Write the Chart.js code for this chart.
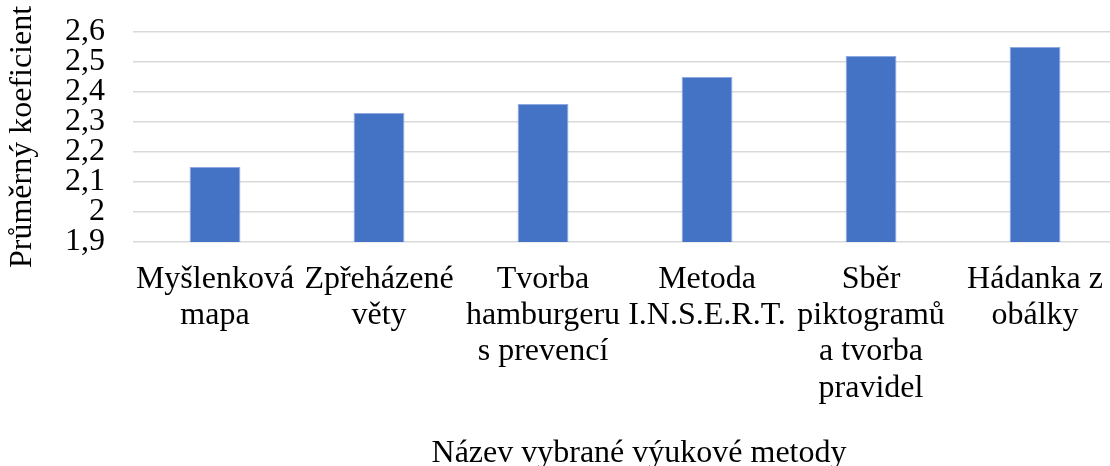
<!DOCTYPE html>
<html>
<head>
<meta charset="utf-8">
<script src="https://cdn.jsdelivr.net/npm/chart.js@4.4.1/dist/chart.umd.min.js"></script>
<style>
html, body { margin: 0; padding: 0; overflow: hidden; background: #ffffff; }
#wrap { width: 1122px; height: 466px; }
</style>
</head>
<body>
<div id="wrap"><canvas id="c" width="1122" height="466"></canvas></div>
<script>
const categories = [
  ['Myšlenková', 'mapa'],
  ['Zpřeházené', 'věty'],
  ['Tvorba', 'hamburgeru', 's prevencí'],
  ['Metoda', 'I.N.S.E.R.T.'],
  ['Sběr', 'piktogramů', 'a tvorba', 'pravidel'],
  ['Hádanka z', 'obálky']
];
const values = [2.15, 2.33, 2.36, 2.45, 2.52, 2.55];
const yTickLabels = ['1,9', '2', '2,1', '2,2', '2,3', '2,4', '2,5', '2,6'];
const yTitle = 'Průměrný koeficient';
const xTitle = 'Název vybrané výukové metody';

const FONT = "'Liberation Serif', 'Times New Roman', serif";

// Draws the x-axis title below the category labels, centred slightly right of the plot centre
const xTitlePlugin = {
  id: 'xTitle',
  afterDraw(chart) {
    const s = chart.scales.x;
    const ctx = chart.ctx;
    ctx.save();
    ctx.font = "32px " + FONT;
    ctx.fillStyle = '#000';
    ctx.textAlign = 'center';
    ctx.textBaseline = 'alphabetic';
    ctx.fillText(xTitle, (s.left + s.right) / 2 + 14, s.bottom - 4);
    ctx.restore();
  }
};

new Chart(document.getElementById('c'), {
  type: 'bar',
  data: {
    labels: categories,
    datasets: [{
      data: values,
      backgroundColor: '#4472C4',
      borderColor: '#8eaadf',
      borderWidth: 1,
      barPercentage: 0.31,
      categoryPercentage: 1.0
    }]
  },
  plugins: [xTitlePlugin],
  options: {
    responsive: false,
    animation: false,
    layout: { padding: { top: 32, left: 0, right: 0, bottom: 0 } },
    plugins: { legend: { display: false }, tooltip: { enabled: false } },
    scales: {
      x: {
        grid: { display: false, drawTicks: false },
        border: { display: false },
        ticks: {
          color: '#000',
          font: { family: FONT, size: 32, lineHeight: 1.135 },
          padding: 19,
          maxRotation: 0,
          minRotation: 0,
          autoSkip: false
        },
        title: { display: false },
        afterFit: (s) => { s.height = 224; }
      },
      y: {
        min: 1.9,
        max: 2.6,
        grid: { color: '#d9d9d9', lineWidth: 1.5, drawTicks: true, tickLength: 28, tickColor: 'rgba(0,0,0,0)' },
        border: { display: false },
        ticks: {
          stepSize: 0.1,
          autoSkip: false,
          color: '#000',
          font: { family: FONT, size: 32, lineHeight: 1.0 },
          padding: 0,
          callback: (v, i) => yTickLabels[i]
        },
        title: {
          display: true,
          text: yTitle,
          color: '#000',
          font: { family: FONT, size: 32, lineHeight: 1.2 },
          padding: { top: 3, bottom: 0 }
        },
        afterFit: (s) => { s.width = 133; }
      }
    }
  }
});
</script>
</body>
</html>
